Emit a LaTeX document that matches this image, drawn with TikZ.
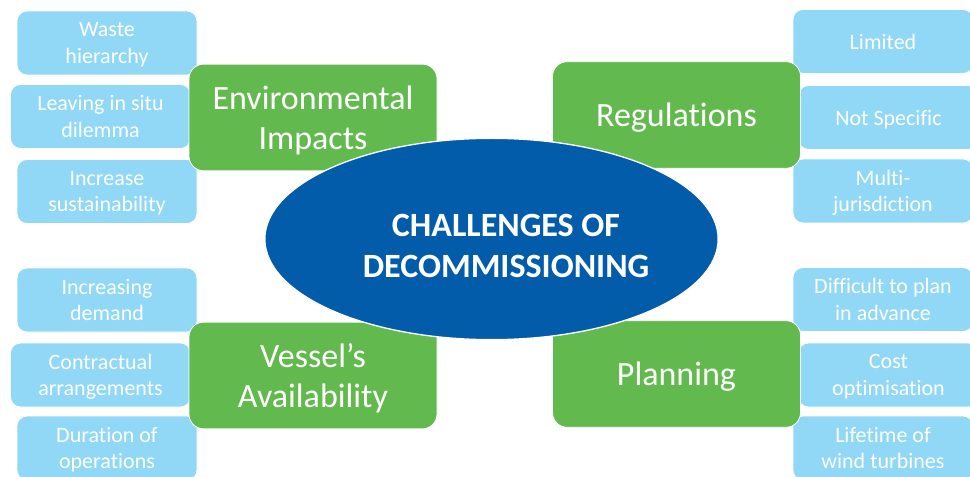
\documentclass[tikz,border=0pt]{standalone}
\usepackage{fontspec}
\setmainfont{Carlito}[Ligatures=NoCommon]
\usetikzlibrary{shapes.geometric}
\definecolor{leafblue}{HTML}{91D8F7}
\definecolor{topicgreen}{HTML}{62BA4E}
\definecolor{hubblue}{HTML}{035CA9}
\tikzset{
 leaf/.style={rectangle, rounded corners=7.5pt, fill=leafblue, draw=white, line width=0.6pt,
   minimum width=135pt, minimum height=48pt, text=white, align=center, text depth=0pt,
   font=\fontsize{16.5}{20}\selectfont, inner sep=0pt},
 topic/.style={rectangle, rounded corners=11pt, fill=topicgreen, draw=white, line width=0.6pt,
   minimum width=186pt, minimum height=80pt, text=white, align=center, text depth=0pt,
   font=\fontsize{25.5}{30}\selectfont, inner sep=0pt},
 hub/.style={ellipse, fill=hubblue, draw=white, line width=1pt,
   minimum width=340pt, minimum height=151pt, inner sep=0pt},
 hubtext/.style={text=white, align=center, inner sep=0pt,
   font=\bfseries\fontsize{25.5}{30.75}\selectfont}
}
\begin{document}
\begin{tikzpicture}[x=0.75pt,y=-0.75pt]
\useasboundingbox (0,0) rectangle (970,477);
\clip (0,0) rectangle (970,477);
\fill[white] (0,0) rectangle (970,477);
% leaves left top
\node[leaf] (waste) at (107,43) {Waste\\hierarchy};
\node[leaf] (situ) at (100.5,116.5) {Leaving in situ\\dilemma};
\node[leaf] (sust) at (107,191.5) {Increase\\sustainability};
% leaves right top
\node[leaf] (limited) at (883,41.5) {Limited};
\node[leaf] (notspec) at (888.5,117.5) {Not Specific};
\node[leaf] (multi) at (883,191) {Multi-\\jurisdiction};
% leaves left bottom
\node[leaf] (demand) at (107,300) {Increasing\\demand};
\node[leaf] (contract) at (100.5,375) {Contractual\\arrangements};
\node[leaf] (duration) at (107,448) {Duration of\\operations};
% leaves right bottom
\node[leaf] (difficult) at (883,299.5) {Difficult to plan\\in advance};
\node[leaf] (cost) at (888.5,375) {Cost\\optimisation};
\node[leaf] (lifetime) at (883,448) {Lifetime of\\wind turbines};
% topics
\node[topic] (env) at (313,117.5) {Environmental\\Impacts};
\node[topic] (reg) at (676.5,115) {Regulations};
\node[topic] (vessel) at (313,375.5) {Vessel’s\\Availability};
\node[topic] (plan) at (676.5,374) {Planning};
% hub
\node[hub] (hub) at (491.5,239) {};
\node[hubtext] (hubtext) at (506,245.5) {CHALLENGES OF\\DECOMMISSIONING};
\end{tikzpicture}
\end{document}
